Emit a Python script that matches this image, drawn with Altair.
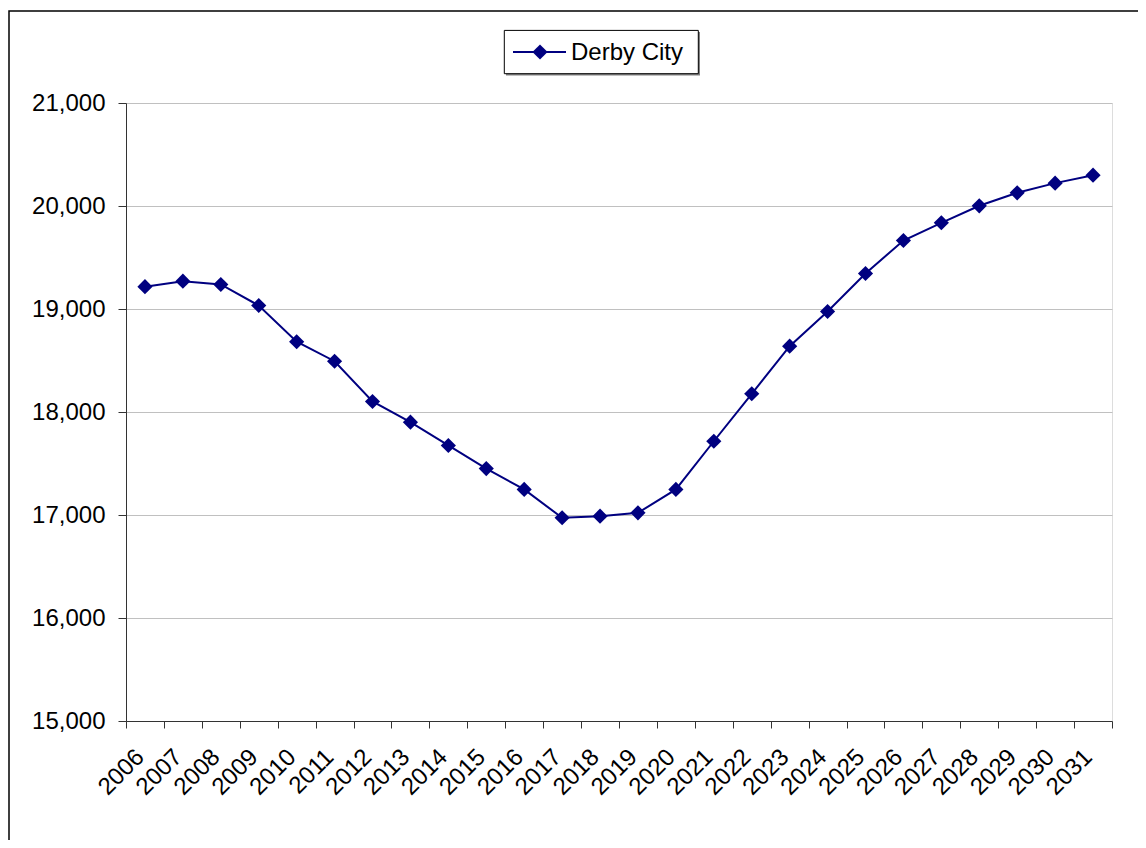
import altair as alt
import pandas as pd

years = [str(y) for y in range(2006, 2032)]
values = [19217, 19270, 19238, 19034, 18682, 18493, 18102, 17901, 17675, 17451,
          17248, 16973, 16989, 17021, 17248, 17716, 18177, 18639, 18976, 19345,
          19665, 19837, 20002, 20128, 20222, 20299]
series_name = "Derby City"
y_ticks = [15000, 16000, 17000, 18000, 19000, 20000, 21000]

df = pd.DataFrame({"year": years, "value": values})

FONT = "Liberation Sans"
NAVY = "#000080"

x = alt.X(
    "year:N",
    sort=years,
    title=None,
    scale=alt.Scale(paddingInner=0, paddingOuter=0),
    axis=alt.Axis(
        tickBand="extent",
        labelAngle=-45,
        labelAlign="right",
        labelBaseline="middle",
        labelPadding=25,
        labelOffset=-5,
        labelFont=FONT,
        labelFontSize=24,
        labelColor="#000000",
        tickSize=7,
        tickColor="#333333",
        domainColor="#333333",
        grid=False,
        labelOverlap=False,
    ),
)

y = alt.Y(
    "value:Q",
    title=None,
    scale=alt.Scale(domain=[15000, 21000], nice=False, zero=False),
    axis=alt.Axis(
        values=y_ticks,
        format=",.0f",
        labelFont=FONT,
        labelFontSize=24,
        labelColor="#000000",
        labelPadding=13,
        tickSize=8,
        tickColor="#333333",
        domainColor="#333333",
        gridColor="#c0c0c0",
        gridWidth=1,
    ),
)

line = alt.Chart(df).mark_line(color=NAVY, strokeWidth=2).encode(x=x, y=y)
points = alt.Chart(df).mark_point(
    shape="diamond", filled=True, size=230, opacity=1, color=NAVY
).encode(x=x, y=y)

one = alt.Data(values=[{"label": series_name}])

frame = alt.Chart(one).mark_rect(
    fill=None, stroke="#000000", strokeWidth=1.5
).encode(
    x=alt.value(-117), x2=alt.value(1040), y=alt.value(-92), y2=alt.value(760)
)

# legend (drawn by hand, Excel style)
leg_shadow = alt.Chart(one).mark_rect(fill="#808080").encode(
    x=alt.value(380), x2=alt.value(574), y=alt.value(-71), y2=alt.value(-27.5)
)
leg_box = alt.Chart(one).mark_rect(fill="#ffffff", stroke="#000000", strokeWidth=1).encode(
    x=alt.value(378.3), x2=alt.value(572.3), y=alt.value(-72.6), y2=alt.value(-29.3)
)
leg_line = alt.Chart(one).mark_rule(color=NAVY, strokeWidth=2).encode(
    x=alt.value(387), x2=alt.value(440), y=alt.value(-51)
)
leg_pt = alt.Chart(one).mark_point(
    shape="diamond", filled=True, size=230, opacity=1, color=NAVY
).encode(x=alt.value(414), y=alt.value(-51))
leg_txt = alt.Chart(one).mark_text(
    align="left", baseline="middle", font=FONT, fontSize=24, color="#000000"
).encode(x=alt.value(445), y=alt.value(-50), text="label:N")

chart = alt.layer(
    frame, line, points, leg_shadow, leg_box, leg_line, leg_pt, leg_txt
).properties(
    width=986,
    height=618,
    autosize=alt.AutoSizeParams(type="none"),
    padding={"left": 118, "top": 95, "right": 26, "bottom": 119},
).configure_view(
    stroke="#808080", strokeWidth=1
).configure(background="#ffffff")

chart.save("out.html", embed_options={"renderer": "svg", "actions": False})
